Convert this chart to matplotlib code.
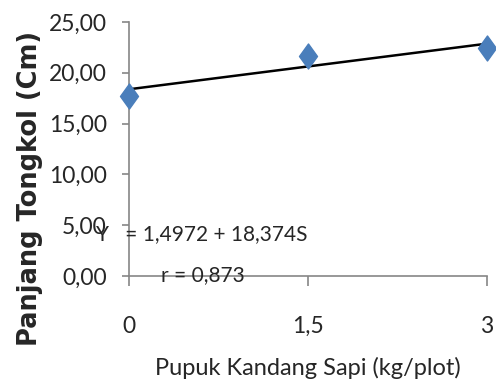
import matplotlib
matplotlib.use("Agg")
from matplotlib import pyplot as plt
from matplotlib.path import Path
import numpy as np

# data
dosis = [0, 1.5, 3]
panjang = [17.75, 21.65, 22.4]
xtick_labels = ["0", "1,5", "3"]
yticks = [0, 5, 10, 15, 20, 25]
ytick_labels = ["0,00", "5,00", "10,00", "15,00", "20,00", "25,00"]

# trendline from the printed equation
slope = 1.4972
intercept = 18.374

plt.rcParams['font.family'] = ['Lato', 'DejaVu Sans']
txt = "#262626"

# Excel-like diamond, a bit taller than wide
diamond = Path([(0, 1), (0.72, 0), (0, -1), (-0.72, 0), (0, 1)],
               [Path.MOVETO, Path.LINETO, Path.LINETO, Path.LINETO, Path.CLOSEPOLY])

fig = plt.figure(figsize=(4.96, 3.92), dpi=100)
ax = fig.add_axes([0.26, 0.296, 0.722, 0.648])

xl = np.array([0, 3])
ax.plot(xl, intercept + slope * xl, "-", color="black", lw=1.8, zorder=2)
ax.plot(dosis, panjang, linestyle="none", marker=diamond, color="#4A7EBB",
        markersize=18, clip_on=False, zorder=3)

ax.set_xlim(0, 3)
ax.set_ylim(0, 25)
ax.set_xticks(dosis)
ax.set_xticklabels(xtick_labels)
ax.set_yticks(yticks)
ax.set_yticklabels(ytick_labels)

for s in ["top", "right"]:
    ax.spines[s].set_visible(False)
for s in ["left", "bottom"]:
    ax.spines[s].set_color("#868686")
    ax.spines[s].set_linewidth(1.2)
ax.tick_params(axis="both", colors="#868686", width=1.2, labelsize=16.5, labelcolor=txt)
ax.tick_params(axis="x", length=7, pad=22)
ax.tick_params(axis="y", length=5, pad=11)

# y label sits lower than the axes centre in the reference
fig.text(30 / 496, 1 - 188 / 392, "Panjang Tongkol (Cm)", rotation=90,
         ha="center", va="center", fontsize=18.5, fontweight="bold",
         family=["DejaVu Sans"], color=txt)
ax.set_xlabel("Pupuk Kandang Sapi (kg/plot)", fontsize=17, labelpad=14, color=txt)

ax.text(-0.28, 4.1, "Y   = 1,4972 + 18,374S", fontsize=15, va="center", ha="left", color=txt)
ax.text(0.62, 0.05, "r = 0,873", fontsize=15, va="center", ha="center", color=txt)

plt.savefig("out.png", dpi=100)
